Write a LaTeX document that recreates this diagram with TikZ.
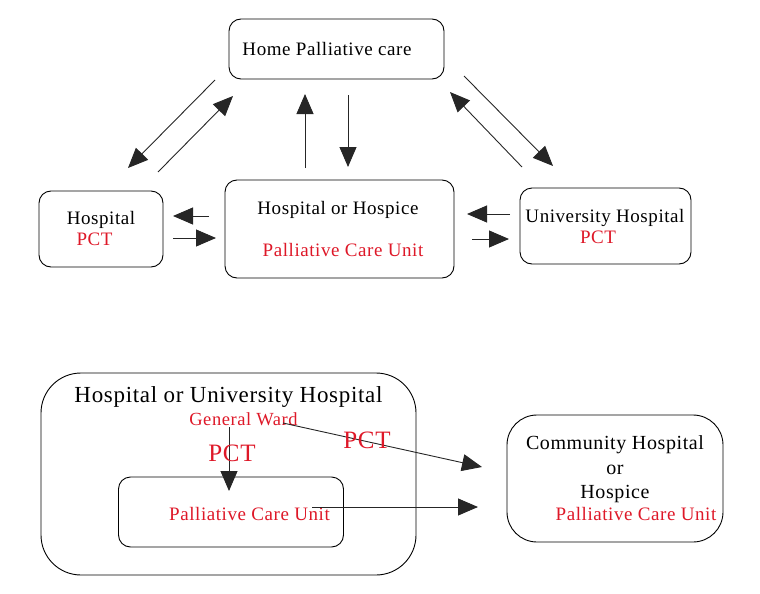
\documentclass[tikz,border=0pt]{standalone}
\usepackage{fontspec}
\setmainfont{Liberation Serif}[LetterSpace=3]
\usetikzlibrary{arrows.meta, positioning}
\definecolor{pctred}{RGB}{222,24,40}
\definecolor{arrowgray}{RGB}{38,38,38}

\begin{document}
\begin{tikzpicture}[x=1pt, y=-1pt,
        box/.style={rectangle, rounded corners=12pt, draw=black, line width=0.9pt, inner sep=0pt},
        txt/.style={inner sep=0pt, text height=12.5pt, text depth=0pt, font=\fontsize{19pt}{22pt}\selectfont},
        redtxt/.style={txt, text=pctred},
        bigpct/.style={redtxt, text height=16.5pt, font=\fontsize{25pt}{28pt}\selectfont},
        line/.style={-{Triangle[length=20pt, width=17pt]}, line width=0.9pt, draw=arrowgray}
    ]
    \useasboundingbox (0,0) rectangle (760,594);
    % upper part
    \node[box, minimum width=215pt, minimum height=60pt] (home) at (336.5,49) {};
    \node[box, minimum width=124pt, minimum height=76pt] (hosp) at (101,229) {};
    \node[box, minimum width=229pt, minimum height=98pt] (hoh) at (339.5,229) {};
    \node[box, minimum width=171pt, minimum height=76pt] (univ) at (605.5,226) {};
    \node[txt] (hometxt) at (327,49) {Home Palliative care};
    \node[txt] (hosptxt) at (101,218) {Hospital};
    \node[redtxt] (hosppct) at (94.5,239) {PCT};
    \node[txt] (hohtxt) at (338,208) {Hospital or Hospice};
    \node[redtxt] (hohpcu) at (343,250) {Palliative Care Unit};
    \node[txt] (univtxt) at (605,216) {University Hospital};
    \node[redtxt] (univpct) at (598,237) {PCT};
    % lower part
    \node[box, rounded corners=40pt, minimum width=375pt, minimum height=202pt] (uhosp) at (228.5,474) {};
    \node[box, minimum width=225pt, minimum height=70pt] (pcu) at (231,512) {};
    \node[box, rounded corners=30pt, minimum width=216pt, minimum height=127pt] (comm) at (615,478.5) {};
    \node[txt, text height=15pt, font=\fontsize{23pt}{26pt}\selectfont] (uhosptxt) at (228.5,395) {Hospital or University Hospital};
    \node[redtxt, text height=12pt, font=\fontsize{18.5pt}{22pt}\selectfont] (ward) at (243.5,419) {General Ward};
    \node[redtxt] (pcutxt) at (249.5,514) {Palliative Care Unit};
    \node[txt, text height=13.2pt, font=\fontsize{20pt}{24pt}\selectfont] (commtxt) at (615,443) {Community Hospital};
    \node[txt, text height=13.2pt, font=\fontsize{20pt}{24pt}\selectfont] (commor) at (615,468) {or};
    \node[txt, text height=13.2pt, font=\fontsize{20pt}{24pt}\selectfont] (commhosp) at (615,492) {Hospice};
    \node[redtxt] (commpcu) at (636,514) {Palliative Care Unit};
    % arrow ends
    \coordinate (a1) at (215,80);   \coordinate (b1) at (128,168);
    \coordinate (a2) at (158,172);  \coordinate (b2) at (233,96);
    \coordinate (a3) at (305,168);  \coordinate (b3) at (305,94);
    \coordinate (a4) at (348,95);   \coordinate (b4) at (348,167);
    \coordinate (a5) at (464,76);   \coordinate (b5) at (553,166);
    \coordinate (a6) at (522,167);  \coordinate (b6) at (450,92);
    \coordinate (a7) at (209,216);  \coordinate (b7) at (173,216);
    \coordinate (a8) at (173,238);  \coordinate (b8) at (216,238);
    \coordinate (a9) at (510,214);  \coordinate (b9) at (467,214);
    \coordinate (a10) at (472,239); \coordinate (b10) at (509,239);
    \coordinate (a11) at (229,427); \coordinate (b11) at (229,491);
    \coordinate (a12) at (283,423); \coordinate (b12) at (482,467);
    \coordinate (a13) at (312,507); \coordinate (b13) at (478,507);
    \foreach \i in {1,...,13}
        \draw[line] (a\i) -- (b\i);
    \node[bigpct] (pct1) at (232,453) {PCT};
    \node[bigpct] (pct2) at (367,440) {PCT};
\end{tikzpicture}
\end{document}
